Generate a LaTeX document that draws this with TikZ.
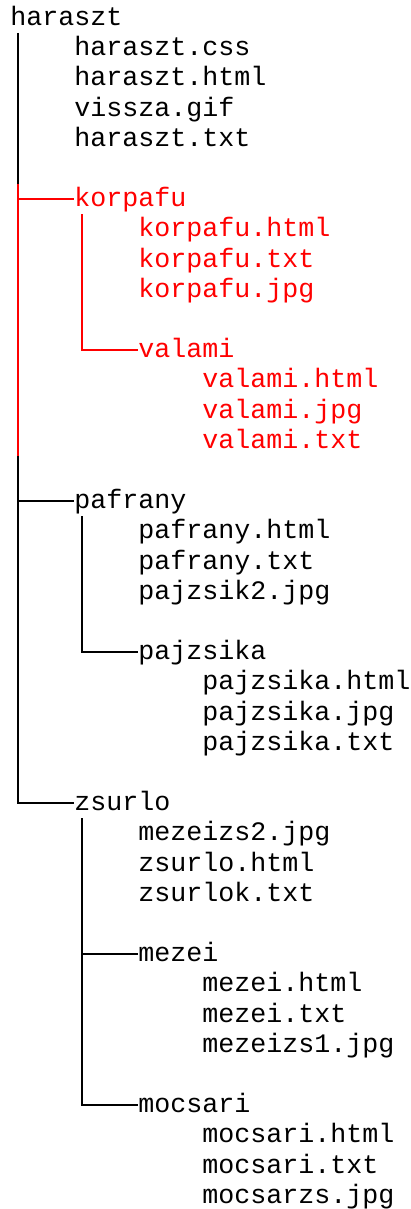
\documentclass[tikz,border=0pt]{standalone}
\usepackage{fontspec}
\setmonofont{Liberation Mono}
\usetikzlibrary{calc}

\begin{document}
\begin{tikzpicture}[x=0.5pt, y=-0.5pt,
  entry/.style={anchor=west, inner sep=0pt, text height=7.5pt, text depth=0pt,
    font=\ttfamily\fontsize{13.33}{15}\selectfont},
  tree/.style={line width=1pt}]

\useasboundingbox (0,0) rectangle (411,1209);

% haraszt
\node[entry] (haraszt) at (10,18) {haraszt};
\node[entry] (haraszt-css) at (74,48.2) {haraszt.css};
\node[entry] (haraszt-html) at (74,78.4) {haraszt.html};
\node[entry] (vissza-gif) at (74,108.6) {vissza.gif};
\node[entry] (haraszt-txt) at (74,138.8) {haraszt.txt};

% korpafu
\node[entry, red] (korpafu) at (74,199.2) {korpafu};
\node[entry, red] (korpafu-html) at (138,229.4) {korpafu.html};
\node[entry, red] (korpafu-txt) at (138,259.6) {korpafu.txt};
\node[entry, red] (korpafu-jpg) at (138,289.8) {korpafu.jpg};
\node[entry, red] (valami) at (138,350.2) {valami};
\node[entry, red] (valami-html) at (202,380.4) {valami.html};
\node[entry, red] (valami-jpg) at (202,410.6) {valami.jpg};
\node[entry, red] (valami-txt) at (202,440.8) {valami.txt};

% pafrany
\node[entry] (pafrany) at (74,501.2) {pafrany};
\node[entry] (pafrany-html) at (138,531.4) {pafrany.html};
\node[entry] (pafrany-txt) at (138,561.6) {pafrany.txt};
\node[entry] (pajzsik2-jpg) at (138,591.8) {pajzsik2.jpg};
\node[entry] (pajzsika) at (138,652.2) {pajzsika};
\node[entry] (pajzsika-html) at (202,682.4) {pajzsika.html};
\node[entry] (pajzsika-jpg) at (202,712.6) {pajzsika.jpg};
\node[entry] (pajzsika-txt) at (202,742.8) {pajzsika.txt};

% zsurlo
\node[entry] (zsurlo) at (74,803.2) {zsurlo};
\node[entry] (mezeizs2-jpg) at (138,833.4) {mezeizs2.jpg};
\node[entry] (zsurlo-html) at (138,863.6) {zsurlo.html};
\node[entry] (zsurlok-txt) at (138,893.8) {zsurlok.txt};
\node[entry] (mezei) at (138,954.2) {mezei};
\node[entry] (mezei-html) at (202,984.4) {mezei.html};
\node[entry] (mezei-txt) at (202,1014.6) {mezei.txt};
\node[entry] (mezeizs1-jpg) at (202,1044.8) {mezeizs1.jpg};
\node[entry] (mocsari) at (138,1105.2) {mocsari};
\node[entry] (mocsari-html) at (202,1135.4) {mocsari.html};
\node[entry] (mocsari-txt) at (202,1165.6) {mocsari.txt};
\node[entry] (mocsarzs-jpg) at (202,1195.8) {mocsarzs.jpg};

\coordinate (trunk) at ($(haraszt.west)+(8,0)$);
\coordinate (zsurlo-line) at ($(zsurlo.west)+(8,0)$);

% main line
\draw[tree] ($(trunk)+(0,15)$) -- ($(trunk |- korpafu.west)+(0,-15)$);
\draw[tree, red] ($(trunk |- korpafu.west)+(0,-15)$) |- (korpafu.west);
\draw[tree, red] (trunk |- korpafu.west) -- ($(trunk |- valami-txt.west)+(0,15)$);
\draw[tree] ($(trunk |- valami-txt.west)+(0,15)$) |- (zsurlo.west);
\draw[tree] (trunk |- pafrany.west) -- (pafrany.west);

% sub dirs
\draw[tree, red] ($(korpafu.west)+(8,15)$) |- (valami.west);
\draw[tree] ($(pafrany.west)+(8,15)$) |- (pajzsika.west);
\draw[tree] ($(zsurlo-line)+(0,15)$) |- (mocsari.west);
\draw[tree] (zsurlo-line |- mezei.west) -- (mezei.west);

\end{tikzpicture}
\end{document}
